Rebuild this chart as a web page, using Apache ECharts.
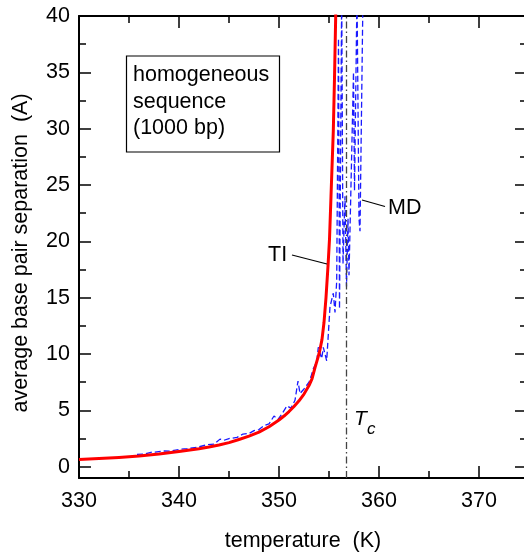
<!DOCTYPE html>
<html>
<head>
<meta charset="utf-8">
<script src="https://cdn.jsdelivr.net/npm/echarts@6/dist/echarts.min.js"></script>
<style>
  html, body { margin: 0; padding: 0; background: #fff; }
  #chart { width: 524px; height: 553px; }
</style>
</head>
<body>
<div id="chart"></div>
<script>
// ---- data ----
const tiT = [330, 332, 334, 336, 338, 340, 342, 343, 344, 345, 346, 347, 348, 349, 350, 350.5, 351, 351.5, 352, 352.5, 353, 353.3, 353.6, 353.9, 354.1, 354.3, 354.5, 354.7, 354.9, 355.05, 355.2, 355.43, 355.55, 355.67, 355.8];
const tiY = [0.65, 0.72, 0.82, 0.95, 1.12, 1.35, 1.6, 1.75, 1.93, 2.14, 2.42, 2.72, 3.07, 3.55, 4.15, 4.5, 4.9, 5.35, 5.85, 6.45, 7.2, 7.8, 8.8, 9.7, 10.4, 11.3, 12.8, 15.0, 17.8, 20.2, 24.0, 29.8, 34.5, 40, 47];

const mdT = [335.8, 336.5, 337.2, 337.6, 338.4, 339.1, 340.1, 340.8, 341.8, 342.8, 343.5, 344.1, 344.5, 345.0, 345.8, 346.4, 347.0, 347.5, 348.0, 348.5, 349.0, 349.5, 349.9, 350.3, 350.8, 351.2, 351.6, 351.9, 352.1, 352.5, 353.0, 353.2, 353.43, 353.77, 353.93, 354.27, 354.43, 354.77, 355.1, 355.43, 355.6, 355.77, 355.95, 356.05, 356.27, 356.4, 356.6, 356.75, 356.9, 357.0, 357.2, 357.45, 357.55, 357.8, 358.0, 358.1, 358.4];
const mdY = [1.1, 1.12, 1.28, 1.3, 1.4, 1.38, 1.55, 1.6, 1.72, 1.95, 2.0, 2.45, 2.35, 2.5, 2.6, 2.9, 2.95, 3.2, 3.3, 3.65, 3.8, 4.5, 4.2, 4.7, 5.4, 5.2, 5.9, 7.6, 6.5, 6.9, 7.5, 8.0, 8.7, 9.3, 10.6, 9.6, 10.6, 9.4, 14.2, 15.4, 13.7, 16.5, 38, 14, 42, 18, 24, 16, 22, 17, 25, 35, 24.5, 42, 22, 20.9, 42];

const tcT = 356.7;

const xMajor = [330, 340, 350, 360, 370];
const xMinor = [335, 345, 355, 365];
const yMajor = [0, 5, 10, 15, 20, 25, 30, 35, 40];
const yMinor = [2.5, 7.5, 12.5, 17.5, 22.5, 27.5, 32.5, 37.5];

const xRange = [330, 374.8];
const yRange = [-1, 40];

// ---- chart ----
const FONT = 'Liberation Sans, Arial, Helvetica, sans-serif';
const FS = 21.5;
const chart = echarts.init(document.getElementById('chart'), null, { renderer: 'canvas' });

function xAx(pos, values, len, showLine, showLabel, extra) {
  return Object.assign({
    type: 'value', position: pos, min: xRange[0], max: xRange[1],
    splitLine: { show: false },
    axisLine: { show: showLine, onZero: false, lineStyle: { color: '#000', width: 2 } },
    axisTick: { show: true, inside: true, length: len, customValues: values, lineStyle: { color: '#000', width: 1.5 } },
    axisLabel: { show: showLabel, customValues: values, color: '#000', fontSize: FS, fontFamily: FONT, margin: 12 }
  }, extra || {});
}
function yAx(pos, values, len, showLine, showLabel, extra) {
  return Object.assign({
    type: 'value', position: pos, min: yRange[0], max: yRange[1],
    splitLine: { show: false },
    axisLine: { show: showLine, onZero: false, lineStyle: { color: '#000', width: 2 } },
    axisTick: { show: true, inside: true, length: len, customValues: values, lineStyle: { color: '#000', width: 1.5 } },
    axisLabel: { show: showLabel, customValues: values, color: '#000', fontSize: FS, fontFamily: FONT, margin: 9 }
  }, extra || {});
}

const option = {
  backgroundColor: '#fff',
  animation: false,
  grid: { left: 79, top: 16, width: 448, height: 462, containLabel: false, outerBoundsMode: 'none' },
  xAxis: [
    xAx('bottom', xMajor, 12, true, true, {
      name: 'temperature  (K)', nameLocation: 'middle', nameGap: 52,
      nameTextStyle: { color: '#000', fontSize: FS, fontFamily: FONT }
    }),
    xAx('bottom', xMinor, 7, false, false),
    xAx('top', xMajor, 12, true, false),
    xAx('top', xMinor, 7, false, false)
  ],
  yAxis: [
    yAx('left', yMajor, 12, true, true, {
      name: 'average base pair separation  (A)', nameLocation: 'middle', nameGap: 47,
      nameTextStyle: { color: '#000', fontSize: FS, fontFamily: FONT, padding: [0, 12, 0, 0] }
    }),
    yAx('left', yMinor, 7, false, false),
    yAx('right', yMajor, 12, true, false),
    yAx('right', yMinor, 7, false, false)
  ],
  series: [
    {
      name: 'MD', type: 'line', xAxisIndex: 0, yAxisIndex: 0,
      data: mdT.map((t, i) => [t, mdY[i]]),
      showSymbol: false, symbol: 'none', clip: true,
      lineStyle: { color: '#1a1aff', width: 1.3, type: [6, 3] },
      markLine: {
        silent: true, symbol: 'none', label: { show: false },
        lineStyle: { color: '#444', width: 1.3, type: [7, 3, 1.5, 3] },
        data: [{ xAxis: tcT }]
      },
      z: 2
    },
    {
      name: 'TI', type: 'line', xAxisIndex: 0, yAxisIndex: 0,
      data: tiT.map((t, i) => [t, tiY[i]]),
      showSymbol: false, symbol: 'none', clip: true,
      smooth: false,
      lineStyle: { color: '#ff0000', width: 3, join: 'round' },
      z: 3
    }
  ],
  graphic: [
    { type: 'rect', shape: { x: 126.5, y: 56, width: 153, height: 96 },
      style: { fill: '#fff', stroke: '#000', lineWidth: 1.2 }, z: 10 },
    { type: 'text', x: 133, y: 62, z: 11,
      style: { text: 'homogeneous\nsequence\n(1000 bp)', fill: '#000', font: FS + 'px ' + FONT, lineHeight: 26.5, textVerticalAlign: 'top' } },
    { type: 'text', x: 388, y: 208, z: 11,
      style: { text: 'MD', fill: '#000', font: FS + 'px ' + FONT, textVerticalAlign: 'middle' } },
    { type: 'line', shape: { x1: 362, y1: 200, x2: 385, y2: 206.5 }, style: { stroke: '#000', lineWidth: 1.2 }, z: 11 },
    { type: 'text', x: 268, y: 255, z: 11,
      style: { text: 'TI', fill: '#000', font: FS + 'px ' + FONT, textVerticalAlign: 'middle' } },
    { type: 'line', shape: { x1: 292, y1: 255, x2: 327, y2: 264 }, style: { stroke: '#000', lineWidth: 1.2 }, z: 11 },
    { type: 'text', x: 354, y: 409, z: 11,
      style: { text: 'T', fill: '#000', font: 'italic 21px ' + FONT, textVerticalAlign: 'top' } },
    { type: 'text', x: 367, y: 421, z: 11,
      style: { text: 'c', fill: '#000', font: 'italic 17px ' + FONT, textVerticalAlign: 'top' } }
  ]
};
chart.setOption(option);
</script>
</body>
</html>
